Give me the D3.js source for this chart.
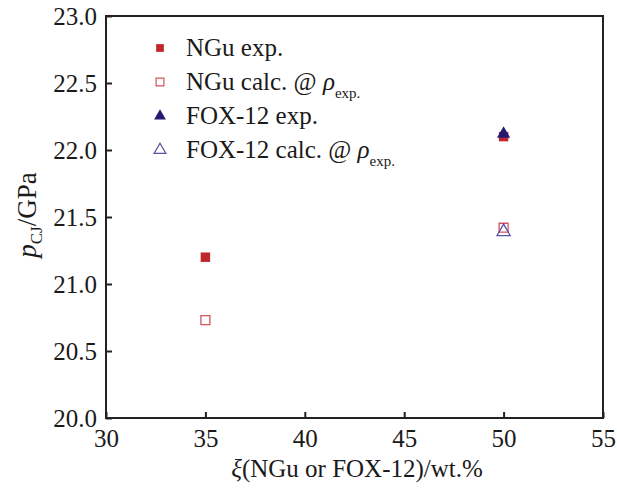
<!DOCTYPE html>
<html><head><meta charset="utf-8">
<script src="https://cdn.jsdelivr.net/npm/d3@7"></script>
<style>body{margin:0;background:#fff;} text{font-family:"Liberation Serif","Times New Roman",serif;fill:#1a1a1a;}</style>
</head><body>
<svg id="c" width="617" height="492"></svg>
<script>
const xTicks = [30, 35, 40, 45, 50, 55];
const yTicks = [20.0, 20.5, 21.0, 21.5, 22.0, 22.5, 23.0];
const xNGu = [35, 50];
const ngExp = [21.2, 22.1];
const ngCalc = [20.73, 21.42];
const xFox = [50];
const foxExp = [22.12];
const foxCalc = [21.39];

const svg = d3.select("#c");
const L = 106, R = 603, T = 16, B = 418;
const x = d3.scaleLinear().domain([30, 55]).range([L, R]);
const y = d3.scaleLinear().domain([20, 23]).range([B, T]);

svg.append("rect").attr("x", L).attr("y", T).attr("width", R - L).attr("height", B - T)
  .attr("fill", "none").attr("stroke", "#222").attr("stroke-width", 2);

const xa = svg.append("g").attr("transform", `translate(0,${B})`)
  .call(d3.axisBottom(x).tickValues(xTicks).tickSize(-6).tickPadding(11).tickFormat(d3.format("d")));
const ya = svg.append("g").attr("transform", `translate(${L},0)`)
  .call(d3.axisLeft(y).tickValues(yTicks).tickSize(-6).tickPadding(9).tickFormat(d3.format(".1f")));
[xa, ya].forEach(a => {
  a.attr("font-family", '"Liberation Serif",serif');
  a.select(".domain").remove();
  a.selectAll(".tick line").attr("stroke", "#222").attr("stroke-width", 2);
  a.selectAll(".tick text").attr("font-size", 25).attr("fill", "#1a1a1a")
    .style("font-family", '"Liberation Serif",serif');
});
xa.selectAll(".tick text").attr("dy", "0.71em");

const red = "#c0272d", redO = "#d4545a", navy = "#241a70", purp = "#5b4ea3";
const sq = d3.symbol().type(d3.symbolSquare).size(90);
const sqO = d3.symbol().type(d3.symbolSquare).size(80);
const tri = d3.symbol().type(d3.symbolTriangle).size(75);
const sqL = d3.symbol().type(d3.symbolSquare).size(60);
const triL = d3.symbol().type(d3.symbolTriangle).size(60);

function pts(xs, ys, sym, fill, stroke) {
  svg.append("g").selectAll("path").data(xs.map((d, i) => [d, ys[i]])).join("path")
    .attr("d", sym).attr("transform", d => `translate(${x(d[0])},${y(d[1])})`)
    .attr("fill", fill).attr("stroke", stroke).attr("stroke-width", 1.3);
}
pts(xNGu, ngExp, sq, red, "none");
pts(xNGu, ngCalc, sqO, "none", redO);
pts(xFox, foxExp, tri, navy, "none");
pts(xFox, foxCalc, tri, "none", purp);

// legend
const leg = [
  {sym: sqL, fill: red, stroke: "none", t: "NGu exp.", rho: false},
  {sym: sqL, fill: "none", stroke: redO, t: "NGu calc. @ ", rho: true},
  {sym: triL, fill: navy, stroke: "none", t: "FOX-12 exp.", rho: false},
  {sym: triL, fill: "none", stroke: purp, t: "FOX-12 calc. @ ", rho: true}
];
const lg = svg.append("g");
leg.forEach((d, i) => {
  const yy = 48 + i * 34;
  lg.append("path").attr("d", d.sym).attr("transform", `translate(160,${yy})`)
    .attr("fill", d.fill).attr("stroke", d.stroke).attr("stroke-width", 1.2);
  const t = lg.append("text").attr("x", 186).attr("y", yy + 8).attr("font-size", 25);
  t.append("tspan").text(d.t);
  if (d.rho) {
    t.append("tspan").attr("font-style", "italic").text("ρ");
    t.append("tspan").attr("font-size", 15).attr("dy", 8).text("exp.");
  }
});

// axis titles
const xt = svg.append("text").attr("x", 357).attr("y", 477).attr("text-anchor", "middle").attr("font-size", 25);
xt.append("tspan").attr("font-style", "italic").text("ξ");
xt.append("tspan").text("(NGu or FOX-12)/wt.%");

const yt = svg.append("text").attr("transform", "translate(36,215) rotate(-90)").attr("text-anchor", "middle").attr("font-size", 27);
yt.append("tspan").attr("font-style", "italic").text("p");
yt.append("tspan").attr("font-size", 17).attr("dy", 6).text("CJ");
yt.append("tspan").attr("dy", -6).text("/GPa");
</script>
</body></html>
